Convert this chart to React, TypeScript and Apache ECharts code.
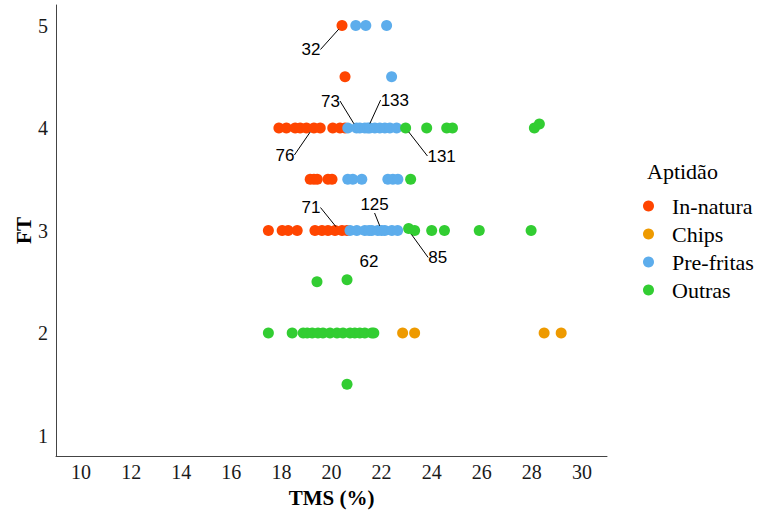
import React, { useEffect, useRef } from "react";
import * as echarts from "echarts";

const xTicks = [10, 12, 14, 16, 18, 20, 22, 24, 26, 28, 30];
const yTicks = [1, 2, 3, 4, 5];
const seriesNames = ["In-natura", "Chips", "Pre-fritas", "Outras"];
const seriesColors = ["#FF4500", "#EE9A00", "#5DADEC", "#32CD32"];

const inNatura: number[][] = [
  [20.42, 5],
  [20.54, 4.5],
  [17.9, 4], [18.2, 4], [18.55, 4], [18.75, 4], [19.0, 4], [19.3, 4], [19.55, 4], [20.05, 4], [20.34, 4], [20.54, 4],
  [19.15, 3.5], [19.3, 3.5], [19.43, 3.5], [19.86, 3.5], [20.02, 3.5],
  [17.48, 3], [18.03, 3], [18.27, 3], [18.63, 3], [19.34, 3], [19.62, 3], [19.86, 3], [20.14, 3], [20.42, 3], [20.62, 3],
];
const chips: number[][] = [
  [22.84, 2], [23.32, 2], [28.49, 2], [29.17, 2],
];
const preFritas: number[][] = [
  [20.97, 5], [21.37, 5], [22.2, 5],
  [22.4, 4.5],
  [20.65, 4], [21.0, 4], [21.13, 4], [21.33, 4], [21.45, 4], [21.53, 4], [21.73, 4], [21.93, 4], [22.13, 4], [22.33, 4], [22.6, 4],
  [20.65, 3.5], [20.85, 3.5], [21.21, 3.5], [22.25, 3.5], [22.45, 3.5], [22.65, 3.5],
  [20.74, 3], [21.01, 3], [21.33, 3], [21.5, 3], [21.61, 3], [21.85, 3], [22.0, 3], [22.13, 3], [22.41, 3], [22.64, 3],
];
const outras: number[][] = [
  [22.96, 4], [23.8, 4], [24.6, 4], [24.83, 4], [28.1, 4], [28.3, 4.04],
  [23.16, 3.5],
  [23.08, 3.02], [23.32, 3], [24.0, 3], [24.51, 3], [25.9, 3], [27.97, 3],
  [19.42, 2.5], [20.62, 2.52],
  [17.48, 2], [18.43, 2], [18.87, 2], [19.03, 2], [19.23, 2], [19.46, 2], [19.66, 2], [19.94, 2], [20.22, 2], [20.46, 2],
  [20.74, 2], [20.93, 2], [21.13, 2], [21.33, 2], [21.61, 2], [21.69, 2],
  [20.62, 1.5],
];
const seriesData = [inNatura, chips, preFritas, outras];

// labelled observations: x, y, id
const labelPoints: [number, number, string][] = [
  [20.42, 5, "32"],
  [21.0, 4, "73"],
  [21.45, 4, "133"],
  [19.26, 4, "76"],
  [22.96, 4, "131"],
  [20.3, 3, "71"],
  [22.0, 3, "125"],
  [23.08, 3, "85"],
  [21.5, 3, "62"],
];
// label offsets (px) relative to their point
const labelOffsets: [number, number][] = [
  [-31, 24],
  [-26, -27],
  [27, -28],
  [-28, 27],
  [36, 28],
  [-28, -23],
  [-7, -26],
  [29, 27],
  [0, 31],
];

const SERIF = "Liberation Serif";
const SANS = "Liberation Sans";

export default function App() {
  const ref = useRef<HTMLDivElement>(null);
  useEffect(() => {
    const chart = echarts.init(ref.current!, null, { renderer: "svg" });
    chart.setOption({
      animation: false,
      backgroundColor: "#ffffff",
      title: {
        text: "Aptidão",
        left: 647,
        top: 160,
        padding: 0,
        textStyle: { fontFamily: SERIF, fontWeight: "normal", fontSize: 22, color: "#000" },
      },
      legend: {
        orient: "vertical",
        left: 643,
        top: 195,
        padding: 0,
        icon: "circle",
        itemWidth: 11,
        itemHeight: 11,
        itemGap: 6,
        data: seriesNames,
        textStyle: { fontFamily: SERIF, fontSize: 22, color: "#000", padding: [0, 0, 0, 13] },
      },
      grid: { left: 56, right: 150, top: 5, bottom: 56 },
      xAxis: {
        type: "value",
        min: 9,
        max: 31,
        name: "TMS (%)",
        nameLocation: "middle",
        nameGap: 31,
        nameTextStyle: { fontFamily: SERIF, fontWeight: "bold", fontSize: 21, color: "#000" },
        axisLine: { show: true, lineStyle: { color: "#444", width: 1 } },
        axisTick: { show: false },
        splitLine: { show: false },
        axisLabel: { customValues: xTicks, fontFamily: SERIF, fontSize: 20, color: "#1a1a1a", margin: 6 },
      },
      yAxis: {
        type: "value",
        min: 0.8,
        max: 5.2,
        name: "FT",
        nameLocation: "middle",
        nameGap: 22,
        nameMoveOverlap: false,
        nameRotate: 90,
        nameTextStyle: { fontFamily: SERIF, fontWeight: "bold", fontSize: 21, color: "#000" },
        axisLine: { show: true, lineStyle: { color: "#444", width: 1 } },
        axisTick: { show: false },
        splitLine: { show: false },
        axisLabel: { customValues: yTicks, fontFamily: SERIF, fontSize: 20, color: "#1a1a1a", margin: 8 },
      },
      series: [
        ...seriesNames.map((name, i) => ({
          type: "scatter",
          name,
          data: seriesData[i],
          symbolSize: 11,
          itemStyle: { color: seriesColors[i], opacity: 1 },
          silent: true,
        })),
        {
          type: "scatter",
          name: "labels",
          data: labelPoints.map(([x, y, t], i) => ({
            value: [x, y],
            name: t,
            labelLine: { show: i !== labelPoints.length - 1 },
          })),
          symbolSize: 10,
          itemStyle: { color: "rgba(0,0,0,0)" },
          silent: true,
          z: 5,
          label: {
            show: true,
            position: "inside",
            formatter: "{b}",
            fontFamily: SANS,
            fontSize: 17,
            color: "#000",
            opacity: 1,
            textBorderWidth: 0,
          },
          labelLine: { show: true, lineStyle: { color: "#000", width: 1, opacity: 1 } },
          labelLayout: (params: any) => ({
            dx: labelOffsets[params.dataIndex][0],
            dy: labelOffsets[params.dataIndex][1],
          }),
        },
      ],
    });
    return () => chart.dispose();
  }, []);
  return <div ref={ref} style={{ position: "fixed", left: 0, top: 0, width: 757, height: 513 }} />;
}
